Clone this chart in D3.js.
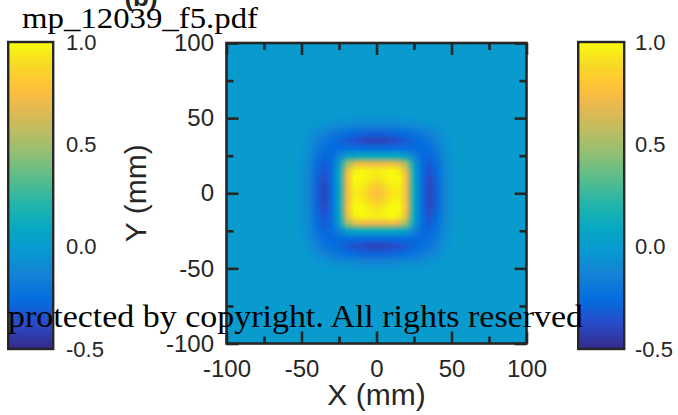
<!DOCTYPE html>
<html>
<head>
<meta charset="utf-8">
<script src="https://cdn.jsdelivr.net/npm/d3@7"></script>
<style>
body { margin: 0; background: #fff; }
svg text { font-family: "Liberation Sans", Arial, sans-serif; fill: #262626; }
.wm { font-family: "Liberation Serif", "DejaVu Serif", serif; fill: #000; }
</style>
</head>
<body>
<svg id="chart" width="678" height="415"></svg>
<script>
// sample grid (mm), 5 mm step over the central region
var gridX = [-50,-45,-40,-35,-30,-25,-20,-15,-10,-5,0,5,10,15,20,25,30,35,40,45,50];
var gridY = [50,45,40,35,30,25,20,15,10,5,0,-5,-10,-15,-20,-25,-30,-35,-40,-45,-50];

// normalised field, rows follow gridY (top to bottom), columns follow gridX
var field = [
  [0,0,-0.01,-0.02,-0.02,-0.03,-0.03,-0.04,-0.04,-0.04,-0.04,-0.04,-0.04,-0.04,-0.03,-0.03,-0.02,-0.02,-0.01,0,0],
  [0,-0.02,-0.04,-0.06,-0.08,-0.10,-0.11,-0.12,-0.13,-0.14,-0.14,-0.14,-0.13,-0.12,-0.11,-0.10,-0.08,-0.06,-0.04,-0.02,0],
  [-0.01,-0.04,-0.09,-0.14,-0.18,-0.22,-0.25,-0.27,-0.29,-0.30,-0.30,-0.30,-0.29,-0.27,-0.25,-0.22,-0.18,-0.14,-0.09,-0.04,-0.01],
  [-0.02,-0.06,-0.14,-0.21,-0.25,-0.28,-0.32,-0.35,-0.38,-0.40,-0.40,-0.40,-0.38,-0.35,-0.32,-0.28,-0.25,-0.21,-0.14,-0.06,-0.02],
  [-0.02,-0.08,-0.18,-0.25,-0.27,-0.26,-0.25,-0.25,-0.25,-0.25,-0.25,-0.25,-0.25,-0.25,-0.25,-0.26,-0.27,-0.25,-0.18,-0.08,-0.02],
  [-0.03,-0.10,-0.22,-0.28,-0.26,-0.12,0.02,0.08,0.10,0.10,0.10,0.10,0.10,0.08,0.02,-0.12,-0.26,-0.28,-0.22,-0.10,-0.03],
  [-0.03,-0.11,-0.25,-0.32,-0.25,0.02,0.45,0.65,0.72,0.70,0.70,0.70,0.72,0.65,0.45,0.02,-0.25,-0.32,-0.25,-0.11,-0.03],
  [-0.04,-0.12,-0.27,-0.35,-0.25,0.08,0.65,0.95,1.00,0.97,0.95,0.97,1.00,0.95,0.65,0.08,-0.25,-0.35,-0.27,-0.12,-0.04],
  [-0.04,-0.13,-0.29,-0.38,-0.25,0.10,0.72,1.00,1.00,0.96,0.92,0.96,1.00,1.00,0.72,0.10,-0.25,-0.38,-0.29,-0.13,-0.04],
  [-0.04,-0.14,-0.30,-0.40,-0.25,0.10,0.70,0.97,0.96,0.88,0.82,0.88,0.96,0.97,0.70,0.10,-0.25,-0.40,-0.30,-0.14,-0.04],
  [-0.04,-0.14,-0.30,-0.40,-0.25,0.10,0.70,0.95,0.92,0.82,0.75,0.82,0.92,0.95,0.70,0.10,-0.25,-0.40,-0.30,-0.14,-0.04],
  [-0.04,-0.14,-0.30,-0.40,-0.25,0.10,0.70,0.97,0.96,0.88,0.82,0.88,0.96,0.97,0.70,0.10,-0.25,-0.40,-0.30,-0.14,-0.04],
  [-0.04,-0.13,-0.29,-0.38,-0.25,0.10,0.72,1.00,1.00,0.96,0.92,0.96,1.00,1.00,0.72,0.10,-0.25,-0.38,-0.29,-0.13,-0.04],
  [-0.04,-0.12,-0.27,-0.35,-0.25,0.08,0.65,0.95,1.00,0.97,0.95,0.97,1.00,0.95,0.65,0.08,-0.25,-0.35,-0.27,-0.12,-0.04],
  [-0.03,-0.11,-0.25,-0.32,-0.25,0.02,0.45,0.65,0.72,0.70,0.70,0.70,0.72,0.65,0.45,0.02,-0.25,-0.32,-0.25,-0.11,-0.03],
  [-0.03,-0.10,-0.22,-0.28,-0.26,-0.12,0.02,0.08,0.10,0.10,0.10,0.10,0.10,0.08,0.02,-0.12,-0.26,-0.28,-0.22,-0.10,-0.03],
  [-0.02,-0.08,-0.18,-0.25,-0.27,-0.26,-0.25,-0.25,-0.25,-0.25,-0.25,-0.25,-0.25,-0.25,-0.25,-0.26,-0.27,-0.25,-0.18,-0.08,-0.02],
  [-0.02,-0.06,-0.14,-0.21,-0.25,-0.28,-0.32,-0.35,-0.38,-0.40,-0.40,-0.40,-0.38,-0.35,-0.32,-0.28,-0.25,-0.21,-0.14,-0.06,-0.02],
  [-0.01,-0.04,-0.09,-0.14,-0.18,-0.22,-0.25,-0.27,-0.29,-0.30,-0.30,-0.30,-0.29,-0.27,-0.25,-0.22,-0.18,-0.14,-0.09,-0.04,-0.01],
  [0,-0.02,-0.04,-0.06,-0.08,-0.10,-0.11,-0.12,-0.13,-0.14,-0.14,-0.14,-0.13,-0.12,-0.11,-0.10,-0.08,-0.06,-0.04,-0.02,0],
  [0,0,-0.01,-0.02,-0.02,-0.03,-0.03,-0.04,-0.04,-0.04,-0.04,-0.04,-0.04,-0.04,-0.03,-0.03,-0.02,-0.02,-0.01,0,0]
];
var backgroundLevel = 0.0;   // level outside the sampled region

var majorTicks = [-100, -50, 0, 50, 100];
var minorTicks = [-75, -25, 25, 75];
var barTicks = [1.0, 0.5, 0.0, -0.5];
var barTickLabels = ["1.0", "0.5", "0.0", "-0.5"];
var colorLimits = [-0.5, 1.0];

// parula samples
var parulaPos = [0, 5, 10, 15, 20, 25, 30, 35, 40, 45, 50, 53, 55, 58, 63];
var parulaHex = ["#352a87", "#2b4ac7", "#046de0", "#1481d6", "#0998d1", "#07a9c2", "#25b5a9",
                 "#59bd8b", "#91bf73", "#c0bc60", "#e9b94e", "#fdbe3d", "#fec932", "#f7d826", "#f9fb0e"];

var svg = d3.select("#chart");

var color = d3.scaleLinear()
  .domain(parulaPos.map(function(p) { return colorLimits[0] + (colorLimits[1] - colorLimits[0]) * p / 63; }))
  .range(parulaHex)
  .interpolate(d3.interpolateRgb)
  .clamp(true);

var x = d3.scaleLinear().domain([-100, 100]).range([226.5, 526.5]);
var y = d3.scaleLinear().domain([-100, 100]).range([343.5, 43]);
var tickText = function(d) { return String(d); };   // plain hyphen minus, like the original

// heat map
svg.append("clipPath").attr("id", "plotclip")
  .append("rect")
  .attr("x", x(-100)).attr("y", y(100))
  .attr("width", x(100) - x(-100)).attr("height", y(-100) - y(100));

var plot = svg.append("g").attr("clip-path", "url(#plotclip)");

plot.append("rect")
  .attr("x", x(-100)).attr("y", y(100))
  .attr("width", x(100) - x(-100)).attr("height", y(-100) - y(100))
  .attr("fill", color(backgroundLevel));

var nx = gridX.length, ny = gridY.length;
var canvas = document.createElement("canvas");
canvas.width = nx; canvas.height = ny;
var ctx = canvas.getContext("2d");
var img = ctx.createImageData(nx, ny);
field.forEach(function(row, j) {
  row.forEach(function(v, i) {
    var c = d3.rgb(color(v));
    var k = (j * nx + i) * 4;
    img.data[k] = c.r; img.data[k + 1] = c.g; img.data[k + 2] = c.b; img.data[k + 3] = 255;
  });
});
ctx.putImageData(img, 0, 0);

var dx = (gridX[1] - gridX[0]) / 2, dy = (gridY[0] - gridY[1]) / 2;
plot.append("image")
  .attr("href", canvas.toDataURL())
  .attr("x", x(gridX[0] - dx))
  .attr("y", y(gridY[0] + dy))
  .attr("width", x(gridX[nx - 1] + dx) - x(gridX[0] - dx))
  .attr("height", y(gridY[ny - 1] - dy) - y(gridY[0] + dy))
  .attr("preserveAspectRatio", "none");

// axes, ticks inside on all four sides
function styleAxis(g) {
  g.select(".domain").remove();
  g.selectAll(".tick line").attr("stroke", "#262626").attr("stroke-width", 2.6);
  g.selectAll("text").attr("fill", "#262626");
}

svg.append("g").attr("transform", "translate(0," + y(-100) + ")")
  .style("font-size", "24px")
  .call(d3.axisBottom(x).tickValues(majorTicks).tickSize(-12).tickPadding(16.5).tickFormat(tickText))
  .call(styleAxis);
svg.append("g").attr("transform", "translate(" + x(-100) + ",0)")
  .style("font-size", "24px")
  .call(d3.axisLeft(y).tickValues(majorTicks).tickSize(-12).tickPadding(12.5).tickFormat(tickText))
  .call(styleAxis);
svg.append("g").attr("transform", "translate(0," + y(100) + ")")
  .call(d3.axisTop(x).tickValues(majorTicks).tickSize(-12).tickFormat(""))
  .call(styleAxis);
svg.append("g").attr("transform", "translate(" + x(100) + ",0)")
  .call(d3.axisRight(y).tickValues(majorTicks).tickSize(-12).tickFormat(""))
  .call(styleAxis);

[[d3.axisBottom(x), "translate(0," + y(-100) + ")"],
 [d3.axisTop(x), "translate(0," + y(100) + ")"],
 [d3.axisLeft(y), "translate(" + x(-100) + ",0)"],
 [d3.axisRight(y), "translate(" + x(100) + ",0)"]].forEach(function(a) {
  svg.append("g").attr("transform", a[1])
    .call(a[0].tickValues(minorTicks).tickSize(-7).tickFormat(""))
    .call(styleAxis);
});

svg.append("rect")
  .attr("x", x(-100)).attr("y", y(100))
  .attr("width", x(100) - x(-100)).attr("height", y(-100) - y(100))
  .attr("fill", "none").attr("stroke", "#262626").attr("stroke-width", 2.6);

svg.append("text")
  .attr("x", (x(-100) + x(100)) / 2).attr("y", 405)
  .attr("text-anchor", "middle").style("font-size", "30px")
  .text("X (mm)");
svg.append("text")
  .attr("transform", "translate(146," + y(0) + ") rotate(-90)")
  .attr("text-anchor", "middle").style("font-size", "30px")
  .text("Y (mm)");

// colour bars
var cb = d3.scaleLinear().domain(colorLimits).range([349, 42]);
var grad = svg.append("defs").append("linearGradient")
  .attr("id", "parula").attr("x1", 0).attr("y1", 1).attr("x2", 0).attr("y2", 0);
grad.selectAll("stop")
  .data(d3.range(0, 1.0001, 0.02))
  .enter().append("stop")
  .attr("offset", function(d) { return d; })
  .attr("stop-color", function(d) { return color(colorLimits[0] + d * (colorLimits[1] - colorLimits[0])); });

[{x0: 8.2, w: 45, lx: 66}, {x0: 578.2, w: 46, lx: 635}].forEach(function(b) {
  svg.append("rect")
    .attr("x", b.x0).attr("y", cb(colorLimits[1]))
    .attr("width", b.w).attr("height", cb(colorLimits[0]) - cb(colorLimits[1]))
    .attr("fill", "url(#parula)")
    .attr("stroke", "#262626").attr("stroke-width", 2.4);
  svg.append("g").selectAll("text")
    .data(barTicks)
    .enter().append("text")
    .attr("x", b.lx)
    .attr("y", function(d) { return cb(d); })
    .attr("dy", "0.35em")
    .style("font-size", "22px")
    .text(function(d, i) { return barTickLabels[i]; });
});

// panel letter, clipped at the top edge
svg.append("text")
  .attr("x", 141).attr("y", 6)
  .attr("text-anchor", "middle")
  .style("font-size", "26px").style("font-weight", "bold")
  .text("(b)");

// overlay stamps
svg.append("text").attr("class", "wm")
  .attr("x", 22).attr("y", 28)
  .attr("textLength", 236).attr("lengthAdjust", "spacingAndGlyphs")
  .style("font-size", "29px")
  .text("mp_12039_f5.pdf");
svg.append("text").attr("class", "wm")
  .attr("x", 8).attr("y", 327)
  .attr("textLength", 575).attr("lengthAdjust", "spacingAndGlyphs")
  .style("font-size", "32px")
  .text("protected by copyright. All rights reserved");
</script>
</body>
</html>
